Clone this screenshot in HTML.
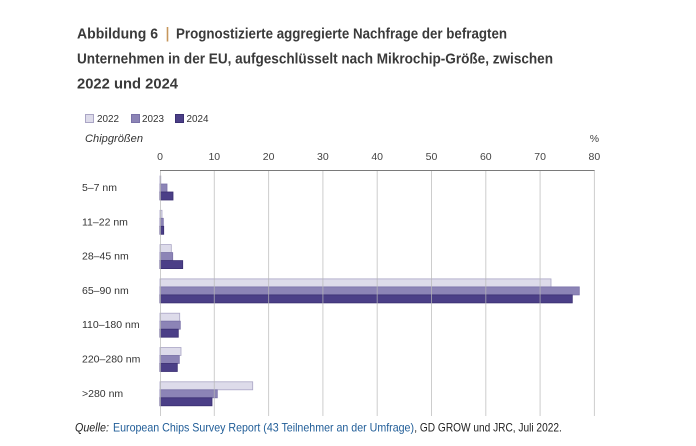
<!DOCTYPE html>
<html><head><meta charset="utf-8"><style>
html,body{margin:0;padding:0;background:#fff;}
svg{display:block;}
text{font-family:"Liberation Sans",sans-serif;}
</style></head><body>
<svg width="696" height="446" viewBox="0 0 696 446" xmlns="http://www.w3.org/2000/svg">
<rect width="696" height="446" fill="#fff"/>
<!-- Title -->
<g font-weight="bold" font-size="15" fill="#3a3a3a">
<text x="77" y="38.3" textLength="81" lengthAdjust="spacingAndGlyphs">Abbildung 6</text>
<text x="176" y="38.3" textLength="331" lengthAdjust="spacingAndGlyphs">Prognostizierte aggregierte Nachfrage der befragten</text>
<text x="77" y="63.3" textLength="476" lengthAdjust="spacingAndGlyphs">Unternehmen in der EU, aufgeschlüsselt nach Mikrochip-Größe, zwischen</text>
<text x="77" y="88.3" textLength="101" lengthAdjust="spacingAndGlyphs">2022 und 2024</text>
</g>
<line x1="167.5" y1="27" x2="167.5" y2="41.5" stroke="#c6965c" stroke-width="1.6"/>
<!-- Legend -->
<rect x="85.5" y="114.5" width="8" height="8" fill="#dddbea" stroke="#aaa5c5" stroke-width="1"/>
<text x="97" y="122" font-size="10" fill="#333" textLength="22" lengthAdjust="spacingAndGlyphs">2022</text>
<rect x="131.5" y="114.5" width="8" height="8" fill="#8c84b6" stroke="#7a72a8" stroke-width="1"/>
<text x="142" y="122" font-size="10" fill="#333" textLength="22" lengthAdjust="spacingAndGlyphs">2023</text>
<rect x="175.5" y="114.5" width="8" height="8" fill="#4b3f87" stroke="#3a2f72" stroke-width="1"/>
<text x="186.5" y="122" font-size="10" fill="#333" textLength="22" lengthAdjust="spacingAndGlyphs">2024</text>
<text x="85" y="142" font-size="11" font-style="italic" fill="#333" textLength="58" lengthAdjust="spacingAndGlyphs">Chipgrößen</text>
<!-- axis tick labels -->
<g font-size="10.5" fill="#444" text-anchor="middle">
<text x="160" y="160">0</text>
<text x="214.3" y="160">10</text>
<text x="268.6" y="160">20</text>
<text x="322.9" y="160">30</text>
<text x="377.2" y="160">40</text>
<text x="431.5" y="160">50</text>
<text x="485.8" y="160">60</text>
<text x="540.1" y="160">70</text>
<text x="594.4" y="160">80</text>
<text x="594.4" y="142">%</text>
</g>
<!-- Category labels -->
<g font-size="10.5" fill="#333">
<text x="82" y="191">5–7 nm</text>
<text x="82" y="225.3">11–22 nm</text>
<text x="82" y="259.6">28–45 nm</text>
<text x="82" y="293.9">65–90 nm</text>
<text x="82" y="328.2">110–180 nm</text>
<text x="82" y="362.5">220–280 nm</text>
<text x="82" y="396.8">&gt;280 nm</text>
</g>
<!-- Bars -->
<g stroke-width="0.8">
<rect x="160" y="176" width="0.8" height="8" fill="#dddbea" stroke="#aaa5c5"/>
<rect x="160" y="184" width="7" height="8" fill="#8c84b6" stroke="#7a72a8"/>
<rect x="160" y="192" width="13" height="8" fill="#4b3f87" stroke="#3a2f72"/>
<rect x="160" y="210.3" width="2" height="8" fill="#dddbea" stroke="#aaa5c5"/>
<rect x="160" y="218.3" width="3.3" height="8" fill="#8c84b6" stroke="#7a72a8"/>
<rect x="160" y="226.3" width="3.7" height="8" fill="#4b3f87" stroke="#3a2f72"/>
<rect x="160" y="244.6" width="11.3" height="8" fill="#dddbea" stroke="#aaa5c5"/>
<rect x="160" y="252.6" width="12.7" height="8" fill="#8c84b6" stroke="#7a72a8"/>
<rect x="160" y="260.6" width="22.7" height="8" fill="#4b3f87" stroke="#3a2f72"/>
<rect x="160" y="278.9" width="391" height="8" fill="#dddbea" stroke="#aaa5c5"/>
<rect x="160" y="286.9" width="419.3" height="8" fill="#8c84b6" stroke="#7a72a8"/>
<rect x="160" y="294.9" width="412.3" height="8" fill="#4b3f87" stroke="#3a2f72"/>
<rect x="160" y="313.2" width="19.7" height="8" fill="#dddbea" stroke="#aaa5c5"/>
<rect x="160" y="321.2" width="20.3" height="8" fill="#8c84b6" stroke="#7a72a8"/>
<rect x="160" y="329.2" width="18.3" height="8" fill="#4b3f87" stroke="#3a2f72"/>
<rect x="160" y="347.5" width="21" height="8" fill="#dddbea" stroke="#aaa5c5"/>
<rect x="160" y="355.5" width="19.3" height="8" fill="#8c84b6" stroke="#7a72a8"/>
<rect x="160" y="363.5" width="17.3" height="8" fill="#4b3f87" stroke="#3a2f72"/>
<rect x="160" y="381.8" width="92.7" height="8" fill="#dddbea" stroke="#aaa5c5"/>
<rect x="160" y="389.8" width="57.3" height="8" fill="#8c84b6" stroke="#7a72a8"/>
<rect x="160" y="397.8" width="52" height="8" fill="#4b3f87" stroke="#3a2f72"/>
</g>
<!-- Gridlines -->
<g stroke="#b8b8b8" stroke-width="1" opacity="0.7">
<line x1="160.5" y1="170" x2="160.5" y2="416"/>
<line x1="214.3" y1="170" x2="214.3" y2="416"/>
<line x1="268.6" y1="170" x2="268.6" y2="416"/>
<line x1="322.9" y1="170" x2="322.9" y2="416"/>
<line x1="377.2" y1="170" x2="377.2" y2="416"/>
<line x1="431.5" y1="170" x2="431.5" y2="416"/>
<line x1="485.8" y1="170" x2="485.8" y2="416"/>
<line x1="540.1" y1="170" x2="540.1" y2="416"/>
<line x1="594.4" y1="170" x2="594.4" y2="416"/>
</g>
<line x1="160" y1="170.5" x2="594.5" y2="170.5" stroke="#7a7a7a" stroke-width="1"/>
<!-- Source -->
<text x="75" y="431.5" font-size="12" font-style="italic" fill="#222" textLength="34" lengthAdjust="spacingAndGlyphs">Quelle:</text>
<text x="113" y="431.5" font-size="12" fill="#1f5c97" textLength="301" lengthAdjust="spacingAndGlyphs">European Chips Survey Report (43 Teilnehmer an der Umfrage)</text>
<text x="414.3" y="431.5" font-size="12" fill="#222" textLength="147.5" lengthAdjust="spacingAndGlyphs">, GD GROW und JRC, Juli 2022.</text>
</svg>
</body></html>
